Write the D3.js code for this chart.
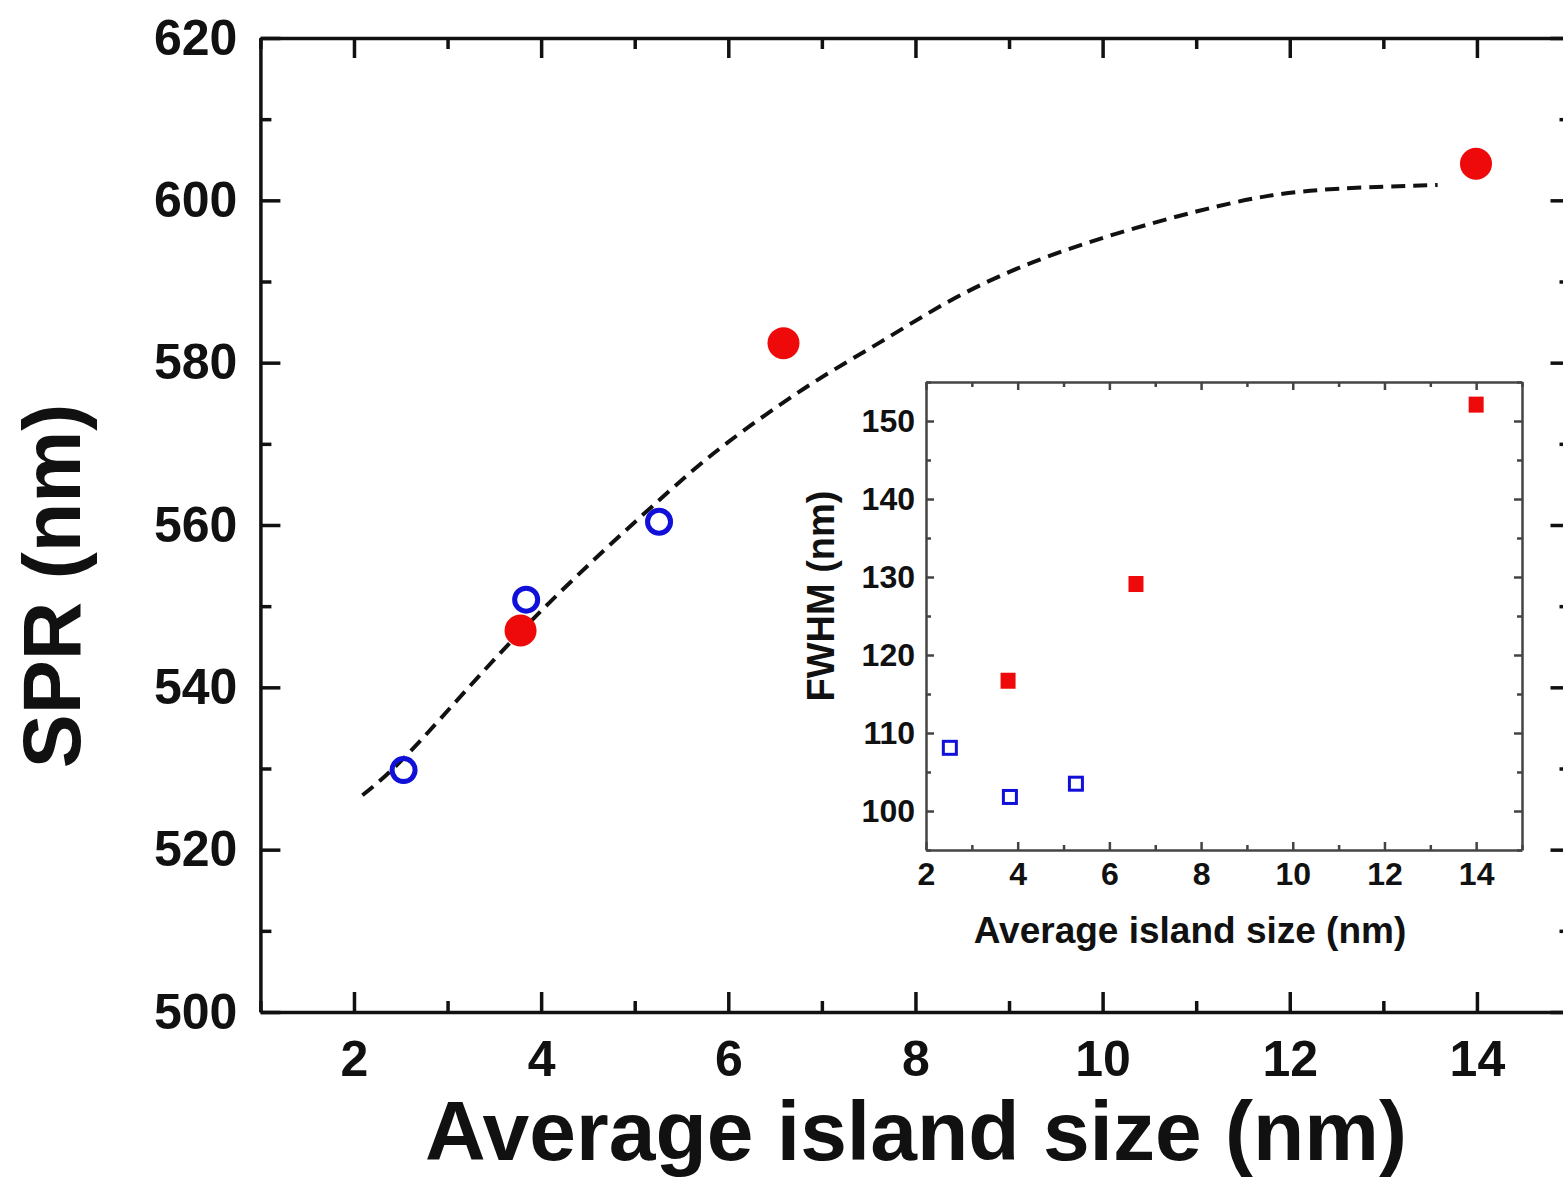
<!DOCTYPE html>
<html><head><meta charset="utf-8">
<script src="https://cdn.jsdelivr.net/npm/d3@7"></script>
<style>
html,body{margin:0;padding:0;background:#fff;}
svg text{font-family:"Liberation Sans",Arial,Helvetica,sans-serif;font-weight:bold;fill:#111;}
</style></head>
<body>
<script>
// ---- Main chart data (SPR vs average island size) ----
const sprOpenX = [2.53, 3.84, 5.26];
const sprOpenY = [529.8, 550.8, 560.4];
const sprFilledX = [3.78, 6.59, 13.99];
const sprFilledY = [547.0, 582.4, 604.5];
// dashed guide curve
const curveX = [2.09, 2.55, 3.81, 5.46, 5.91, 6.87, 7.62, 8.40, 9.26, 10.15, 11.04, 11.76, 12.46, 13.58];
const curveY = [526.7, 531.0, 547.9, 565.2, 569.6, 577.5, 582.4, 588.1, 592.6, 596.0, 598.8, 600.7, 601.5, 601.9];
const mainXTicks = [2, 4, 6, 8, 10, 12, 14];
const mainYTicks = [500, 520, 540, 560, 580, 600, 620];
// ---- Inset data (FWHM vs average island size) ----
const fwhmOpenX = [2.52, 3.83, 5.27];
const fwhmOpenY = [108.1, 101.8, 103.5];
const fwhmFilledX = [3.79, 6.58, 14.0];
const fwhmFilledY = [116.7, 129.1, 152.1];
const insetXTicks = [2, 4, 6, 8, 10, 12, 14];
const insetYTicks = [100, 110, 120, 130, 140, 150];
const xLabel = "Average island size (nm)";
const yLabel = "SPR (nm)";
const insetYLabel = "FWHM (nm)";

const W = 1563, H = 1180;
const RED = "#ee0a0a", BLUE = "#1010d8";
const svg = d3.select("body").append("svg").attr("width", W).attr("height", H);

// Main scales
const x = d3.scaleLinear().domain([1, 15]).range([260.4, 1570.5]);
const y = d3.scaleLinear().domain([500, 620]).range([1012, 38]);

function range(a, b, s){const r=[];for(let v=a; v<=b+1e-9; v+=s) r.push(+v.toFixed(6)); return r;}
const minorX = range(1, 15, 1).filter(v => !mainXTicks.includes(v));
const minorY = range(500, 620, 10).filter(v => !mainYTicks.includes(v));

function styleAxis(g, sw, col){
  g.selectAll("path.domain").attr("stroke", col).attr("stroke-width", sw);
  g.selectAll(".tick line").attr("stroke", col).attr("stroke-width", sw);
}

const main = svg.append("g");
// bottom
let g = main.append("g").attr("transform", `translate(0,${y(500)})`)
  .call(d3.axisBottom(x).tickValues(mainXTicks).tickSizeInner(-20).tickSizeOuter(0).tickPadding(28).tickFormat(d3.format("d")));
g.selectAll("text").attr("font-size", 50);
styleAxis(g, 3.5, "#111");
g = main.append("g").attr("transform", `translate(0,${y(500)})`)
  .call(d3.axisBottom(x).tickValues(minorX).tickSizeInner(-11).tickSizeOuter(0).tickFormat(""));
g.select("path.domain").remove(); styleAxis(g, 3.5, "#111");
// top
g = main.append("g").attr("transform", `translate(0,${y(620)})`)
  .call(d3.axisTop(x).tickValues(mainXTicks).tickSizeInner(-20).tickSizeOuter(0).tickFormat(""));
styleAxis(g, 3.5, "#111");
g = main.append("g").attr("transform", `translate(0,${y(620)})`)
  .call(d3.axisTop(x).tickValues(minorX).tickSizeInner(-11).tickSizeOuter(0).tickFormat(""));
g.select("path.domain").remove(); styleAxis(g, 3.5, "#111");
// left
g = main.append("g").attr("transform", `translate(${x(1)},0)`)
  .call(d3.axisLeft(y).tickValues(mainYTicks).tickSizeInner(-20).tickSizeOuter(0).tickPadding(23).tickFormat(d3.format("d")));
g.selectAll("text").attr("font-size", 50);
styleAxis(g, 3.5, "#111");
g = main.append("g").attr("transform", `translate(${x(1)},0)`)
  .call(d3.axisLeft(y).tickValues(minorY).tickSizeInner(-11).tickSizeOuter(0).tickFormat(""));
g.select("path.domain").remove(); styleAxis(g, 3.5, "#111");
// right
g = main.append("g").attr("transform", `translate(${x(15)},0)`)
  .call(d3.axisRight(y).tickValues(mainYTicks).tickSizeInner(-20).tickSizeOuter(0).tickFormat(""));
styleAxis(g, 3.5, "#111");
g = main.append("g").attr("transform", `translate(${x(15)},0)`)
  .call(d3.axisRight(y).tickValues(minorY).tickSizeInner(-11).tickSizeOuter(0).tickFormat(""));
g.select("path.domain").remove(); styleAxis(g, 3.5, "#111");

// axis titles
main.append("text").attr("x", 916).attr("y", 1160).attr("text-anchor", "middle")
  .attr("font-size", 84).text(xLabel);
main.append("text").attr("transform", "translate(80,586) rotate(-90)").attr("text-anchor", "middle")
  .attr("font-size", 81).text(yLabel);

// dashed curve
const curvePts = curveX.map((v, i) => [v, curveY[i]]);
main.append("path").datum(curvePts)
  .attr("d", d3.line().x(d => x(d[0])).y(d => y(d[1])).curve(d3.curveBasis))
  .attr("fill", "none").attr("stroke", "#111").attr("stroke-width", 4)
  .attr("stroke-dasharray", "14,8");

// markers
main.selectAll("circle.open").data(sprOpenX.map((v, i) => [v, sprOpenY[i]])).join("circle")
  .attr("cx", d => x(d[0])).attr("cy", d => y(d[1])).attr("r", 11.5)
  .attr("fill", "none").attr("stroke", BLUE).attr("stroke-width", 5);
main.selectAll("circle.filled").data(sprFilledX.map((v, i) => [v, sprFilledY[i]])).join("circle")
  .attr("cx", d => x(d[0])).attr("cy", d => y(d[1])).attr("r", 16)
  .attr("fill", RED);

// ---- Inset ----
const ix = d3.scaleLinear().domain([2, 15]).range([926, 1522]);
const iy = d3.scaleLinear().domain([95, 155]).range([850, 382]);
const inset = svg.append("g");
inset.append("rect").attr("x", ix(2)).attr("y", iy(155)).attr("width", ix(15) - ix(2)).attr("height", iy(95) - iy(155))
  .attr("fill", "#fff");
const IC = "#444", ISW = 2.5;
const iMinorX = range(2, 15, 1).filter(v => !insetXTicks.includes(v));
const iMinorY = range(95, 155, 5).filter(v => !insetYTicks.includes(v));

g = inset.append("g").attr("transform", `translate(0,${iy(95)})`)
  .call(d3.axisBottom(ix).tickValues(insetXTicks).tickSizeInner(-8).tickSizeOuter(0).tickPadding(12).tickFormat(d3.format("d")));
g.selectAll("text").attr("font-size", 32);
styleAxis(g, ISW, IC);
g = inset.append("g").attr("transform", `translate(0,${iy(95)})`)
  .call(d3.axisBottom(ix).tickValues(iMinorX).tickSizeInner(-5).tickSizeOuter(0).tickFormat(""));
g.select("path.domain").remove(); styleAxis(g, ISW, IC);
g = inset.append("g").attr("transform", `translate(0,${iy(155)})`)
  .call(d3.axisTop(ix).tickValues(insetXTicks).tickSizeInner(-8).tickSizeOuter(0).tickFormat(""));
styleAxis(g, ISW, IC);
g = inset.append("g").attr("transform", `translate(0,${iy(155)})`)
  .call(d3.axisTop(ix).tickValues(iMinorX).tickSizeInner(-5).tickSizeOuter(0).tickFormat(""));
g.select("path.domain").remove(); styleAxis(g, ISW, IC);
g = inset.append("g").attr("transform", `translate(${ix(2)},0)`)
  .call(d3.axisLeft(iy).tickValues(insetYTicks).tickSizeInner(-8).tickSizeOuter(0).tickPadding(11).tickFormat(d3.format("d")));
g.selectAll("text").attr("font-size", 32);
styleAxis(g, ISW, IC);
g = inset.append("g").attr("transform", `translate(${ix(2)},0)`)
  .call(d3.axisLeft(iy).tickValues(iMinorY).tickSizeInner(-5).tickSizeOuter(0).tickFormat(""));
g.select("path.domain").remove(); styleAxis(g, ISW, IC);
g = inset.append("g").attr("transform", `translate(${ix(15)},0)`)
  .call(d3.axisRight(iy).tickValues(insetYTicks).tickSizeInner(-8).tickSizeOuter(0).tickFormat(""));
styleAxis(g, ISW, IC);
g = inset.append("g").attr("transform", `translate(${ix(15)},0)`)
  .call(d3.axisRight(iy).tickValues(iMinorY).tickSizeInner(-5).tickSizeOuter(0).tickFormat(""));
g.select("path.domain").remove(); styleAxis(g, ISW, IC);

inset.append("text").attr("x", 1190).attr("y", 943).attr("text-anchor", "middle")
  .attr("font-size", 37).text(xLabel);
inset.append("text").attr("transform", "translate(834,596) rotate(-90)").attr("text-anchor", "middle")
  .attr("font-size", 38).text(insetYLabel);

inset.selectAll("rect.open").data(fwhmOpenX.map((v, i) => [v, fwhmOpenY[i]])).join("rect")
  .attr("x", d => ix(d[0]) - 6.5).attr("y", d => iy(d[1]) - 6.5).attr("width", 13).attr("height", 13)
  .attr("fill", "none").attr("stroke", BLUE).attr("stroke-width", 3);
inset.selectAll("rect.filled").data(fwhmFilledX.map((v, i) => [v, fwhmFilledY[i]])).join("rect")
  .attr("x", d => ix(d[0]) - 7.5).attr("y", d => iy(d[1]) - 8).attr("width", 15).attr("height", 16)
  .attr("fill", RED);
</script>
</body></html>
